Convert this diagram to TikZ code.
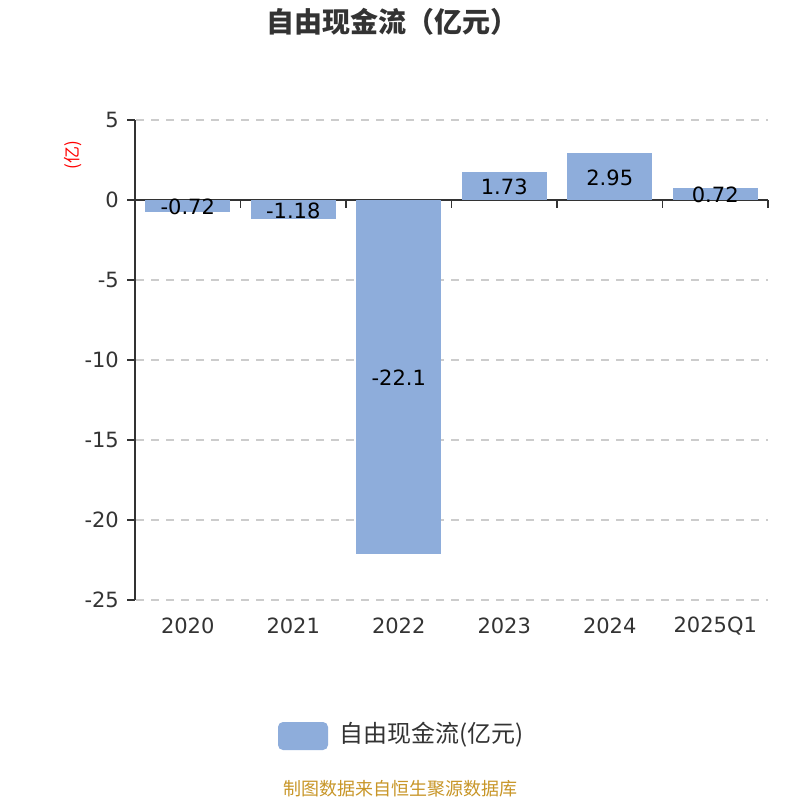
\documentclass[tikz,border=0pt]{standalone}
\usepackage{fontspec}
\setmainfont{Noto Sans CJK SC}
\newfontfamily\numfont{DejaVu Sans}
\definecolor{barblue}{RGB}{142,173,219}
\definecolor{txtgray}{RGB}{51,51,51}
\definecolor{gridgray}{RGB}{204,204,204}
\definecolor{axisgray}{RGB}{51,51,51}
\definecolor{srcgold}{RGB}{200,150,40}
\begin{document}
\begin{tikzpicture}[x=1pt,y=-1pt,
  ticklbl/.style={text=txtgray, inner sep=0pt, font=\numfont\fontsize{21}{21}\selectfont},
  vallbl/.style={text=black, inner sep=0pt, font=\numfont\fontsize{21}{21}\selectfont},
  gridline/.style={draw=gridgray, line width=1.6pt, dash pattern=on 8pt off 7pt},
  barfill/.style={fill=barblue},
  axisline/.style={draw=axisgray, line width=1.6pt}]
\useasboundingbox (0,0) rectangle (800,800);
\fill[white] (0,0) rectangle (800,800);
% title
\node[text=txtgray, font=\fontsize{28}{28}\selectfont\bfseries, inner sep=0pt] (title) at (392,22) {自由现金流（亿元）};
% y axis name
\node[text=red, font=\fontsize{17}{17}\selectfont, rotate=90, inner sep=0pt] (yname) at (73,155) {(亿)};
% grid lines
\foreach \v in {5,-5,-10,-15,-20,-25}{
  \draw[gridline] (136,{200-16*\v}) -- (768,{200-16*\v});
}
% axes
\draw[axisline] (135,120) -- (135,600);
\draw[axisline] (135,200) -- (768,200);
\foreach \v in {5,0,-5,-10,-15,-20,-25}{
  \draw[axisline] (127,{200-16*\v}) -- (135,{200-16*\v});
  \node[ticklbl, anchor=east] at (119,{200-16*\v}) {\v};
}
\foreach \i in {0,...,6}{
  \draw[axisline] ({135+105.5*\i},200) -- ({135+105.5*\i},208);
}
% bars
\foreach \i/\v/\lab/\yr in {0/-0.72/-0.72/2020, 1/-1.18/-1.18/2021, 2/-22.1/-22.1/2022, 3/1.73/1.73/2023, 4/2.95/2.95/2024, 5/0.72/0.72/2025Q1}{
  \fill[barfill] ({135+105.5*\i+10.25},200) rectangle ({135+105.5*\i+95.25},{200-16*\v});
  \node[vallbl] (v\i) at ({135+105.5*\i+52.75},{200-8*\v+1}) {\lab};
  \node[ticklbl] (x\i) at ({135+105.5*\i+52.75},626) {\yr};
}
% legend
\node[fill=barblue, rounded corners=5pt, minimum width=50pt, minimum height=28pt, inner sep=0pt] (legkey) at (303,736) {};
\node[text=txtgray, inner sep=0pt, font=\fontsize{24}{24}\selectfont, anchor=west] (legtxt) at (339,735) {自由现金流(亿元)};
% source
\node[text=srcgold, font=\fontsize{18}{18}\selectfont, inner sep=0pt] (src) at (400,789) {制图数据来自恒生聚源数据库};
\end{tikzpicture}
\end{document}
